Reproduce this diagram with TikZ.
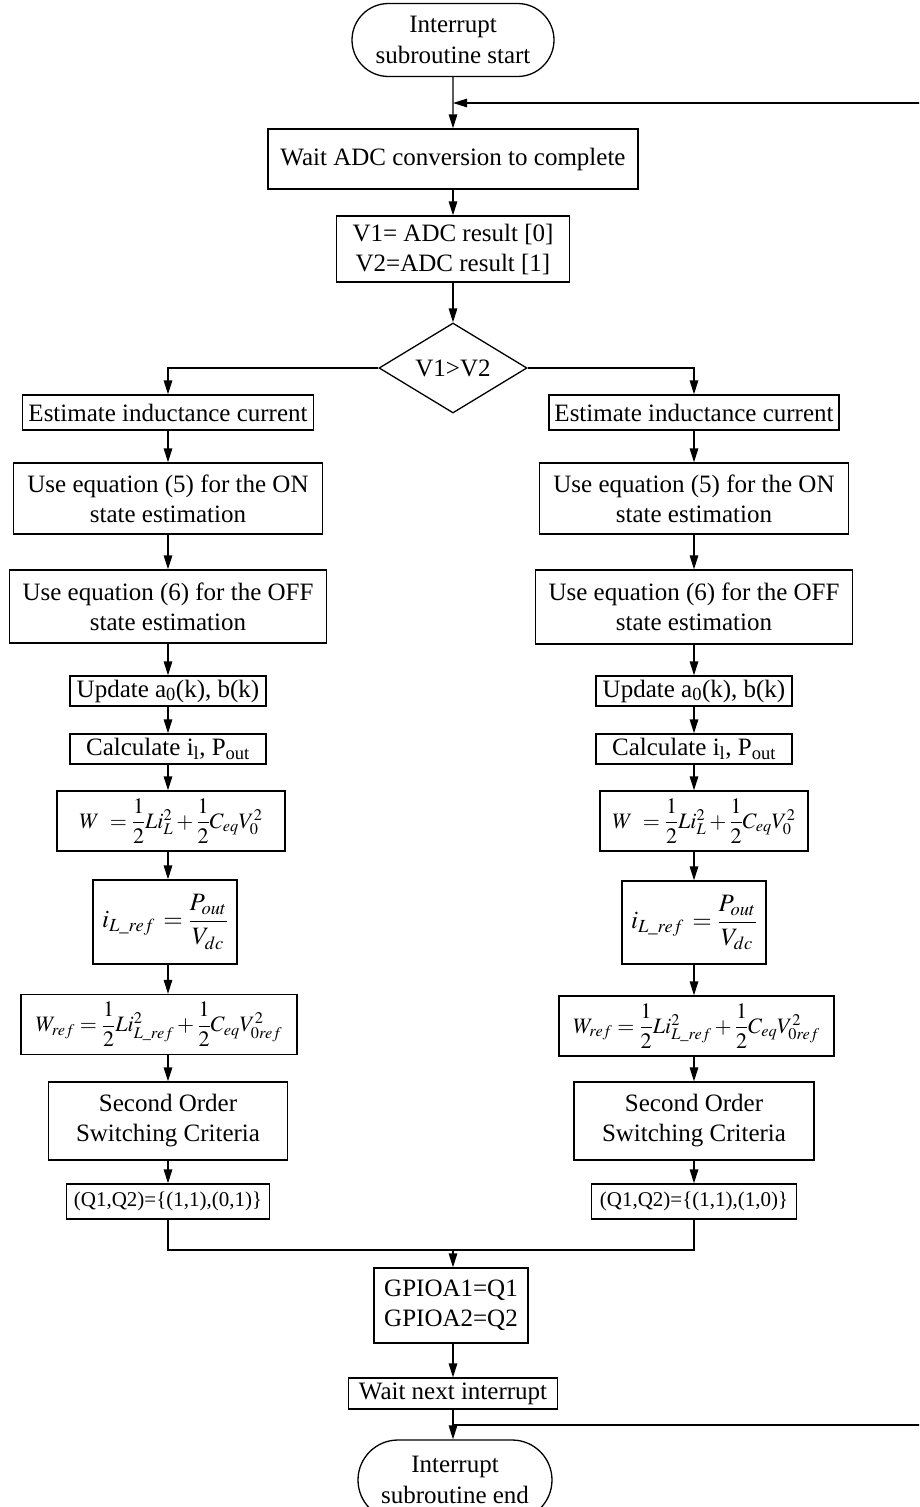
\documentclass[tikz,border=0pt]{standalone}
\usepackage{amsmath}
\usepackage{mathptmx}
\usepackage[no-math]{fontspec}
\setmainfont{Liberation Serif}
\usetikzlibrary{shapes.geometric,shapes.misc,arrows.meta}
\tikzset{
  ln/.style={line width=1.3pt, draw=black},
  arr/.style={ln, -{Triangle[length=14pt,width=8.5pt]}},
  box/.style={draw, line width=1.3pt, inner sep=0pt, align=center, font=\fontsize{25}{30}\selectfont},
  qbox/.style={box, font=\fontsize{21}{25}\selectfont},
  term/.style={draw, line width=1.3pt, rounded rectangle, inner sep=0pt, align=center, font=\fontsize{25}{31}\selectfont},
  dec/.style={draw, line width=1.3pt, diamond, aspect=1.64, inner sep=0pt, font=\fontsize{25}{30}\selectfont},
  fbox/.style={box, font=\fontsize{22}{26}\selectfont},
}
\begin{document}
\begin{tikzpicture}[x=1pt,y=-1pt]
\useasboundingbox (0,0) rectangle (919,1507);
\clip (0,0) rectangle (919,1507);
\coordinate (lc) at (168,0);
\coordinate (rc) at (694,0);
\coordinate (mc) at (453,0);
\coordinate (far) at (960,0);
% main column top
\node[term, minimum width=202pt, minimum height=73pt] (start) at (453,40) {Interrupt\\subroutine start};
\node[box, minimum width=370pt, minimum height=60pt] (adc) at (453,159) {Wait ADC conversion to complete};
\node[box, minimum width=233pt, minimum height=66pt] (vv) at (453,249) {V1= ADC result [0]\\V2=ADC result [1]};
\node[dec, minimum width=148pt, minimum height=90pt] (d) at (453,368) {V1>V2};
% left column
\node[box, minimum width=291pt, minimum height=35pt] (l1) at (168,412.5) {Estimate inductance current};
\node[box, minimum width=309pt, minimum height=71pt] (l2) at (168,498.5) {Use equation (5) for the ON\\state estimation};
\node[box, minimum width=317pt, minimum height=73pt] (l3) at (168,606.5) {Use equation (6) for the OFF\\state estimation};
\node[box, minimum width=196pt, minimum height=30pt] (l4) at (168,691) {Update a\textsubscript{0}(k), b(k)};
\node[box, minimum width=196pt, minimum height=30pt] (l5) at (168,749) {Calculate i\textsubscript{l}, P\textsubscript{out}};
\node[fbox, minimum width=228pt, minimum height=60pt] (l6) at (171,821) {$W\ = \dfrac{1}{2} L i_L^2 + \dfrac{1}{2} C_{eq} V_0^2$};
\node[box, minimum width=144pt, minimum height=84pt] (l7) at (165,922) {$i_{L\_ref}\, = \dfrac{P_{out}}{V_{dc}}$};
\node[fbox, minimum width=276pt, minimum height=60pt] (l8) at (159,1024.5) {$W_{ref} = \dfrac{1}{2} L i_{L\_ref}^2 + \dfrac{1}{2} C_{eq} V_{0ref}^2$};
\node[box, minimum width=239pt, minimum height=78pt] (l9) at (168,1121) {Second Order\\Switching Criteria};
\node[qbox, minimum width=203pt, minimum height=35pt] (l10) at (168,1201.5) {(Q1,Q2)=\{(1,1),(0,1)\}};
% right column
\node[box, minimum width=290pt, minimum height=35pt] (r1) at (694,412.5) {Estimate inductance current};
\node[box, minimum width=309pt, minimum height=71pt] (r2) at (694,498.5) {Use equation (5) for the ON\\state estimation};
\node[box, minimum width=317pt, minimum height=74pt] (r3) at (694,607) {Use equation (6) for the OFF\\state estimation};
\node[box, minimum width=196pt, minimum height=30pt] (r4) at (694,691) {Update a\textsubscript{0}(k), b(k)};
\node[box, minimum width=196pt, minimum height=30pt] (r5) at (694,749) {Calculate i\textsubscript{l}, P\textsubscript{out}};
\node[fbox, minimum width=208pt, minimum height=60pt] (r6) at (704,821) {$W\ = \dfrac{1}{2} L i_L^2 + \dfrac{1}{2} C_{eq} V_0^2$};
\node[box, minimum width=144pt, minimum height=83pt] (r7) at (694,922.5) {$i_{L\_ref}\, = \dfrac{P_{out}}{V_{dc}}$};
\node[fbox, minimum width=275pt, minimum height=60pt] (r8) at (696.5,1026) {$W_{ref} = \dfrac{1}{2} L i_{L\_ref}^2 + \dfrac{1}{2} C_{eq} V_{0ref}^2$};
\node[box, minimum width=240pt, minimum height=78pt] (r9) at (694,1121) {Second Order\\Switching Criteria};
\node[qbox, minimum width=205pt, minimum height=35pt] (r10) at (694,1201.5) {(Q1,Q2)=\{(1,1),(1,0)\}};
% bottom
\coordinate (merge) at (453,1250);
\node[box, minimum width=154pt, minimum height=75pt] (gpio) at (451,1305.5) {GPIOA1=Q1\\GPIOA2=Q2};
\node[box, minimum width=209pt, minimum height=31pt] (wait) at (453,1393.5) {Wait next interrupt};
\node[term, minimum width=194pt, minimum height=80pt] (end) at (455,1480) {Interrupt\\subroutine end};
\coordinate (lb) at (453,1425);
\coordinate (lt) at (453,103);
% connectors
\draw[arr] (start) -- (mc |- adc.north);
\draw[arr] (adc) -- (mc |- vv.north);
\draw[arr] (vv) -- (d);
\draw[arr] (d.west) -| (l1.north);
\draw[arr] (d.east) -| (r1.north);
\foreach \a/\b in {l1/l2,l2/l3,l3/l4,l4/l5,l5/l6,l6/l7,l7/l8,l8/l9,l9/l10}{
  \draw[arr] (lc |- \a.south) -- (lc |- \b.north);
}
\foreach \a/\b in {r1/r2,r2/r3,r3/r4,r4/r5,r5/r6,r6/r7,r7/r8,r8/r9,r9/r10}{
  \draw[arr] (rc |- \a.south) -- (rc |- \b.north);
}
\draw[ln] (l10) -- (lc |- merge) -- (rc |- merge) -- (r10);
\draw[arr] (merge) -- (mc |- gpio.north);
\draw[arr] (mc |- gpio.south) -- (mc |- wait.north);
\draw[arr] (wait) -- (mc |- end.north);
\draw[arr] (lb) -- (far |- lb) -- (far |- lt) -- (lt);
\end{tikzpicture}
\end{document}
